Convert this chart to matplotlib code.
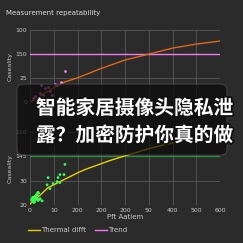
import matplotlib.pyplot as plt
import matplotlib.patheffects as pe
from matplotlib.patches import FancyBboxPatch

# top panel data
trend_x = [0, 13, 84, 147, 198, 295, 400, 501, 602, 703, 800]
trend_y = [0, 4, 25, 42, 50, 69, 87.5, 100, 112.5, 121, 127]
pink_x = [147, 131, 114, 105, 46, 63, 84, 42, 55, 21, 13, 29, 93, 76]
pink_y = [64.6, 41.7, 35.4, 37.5, 35.4, 29.2, 22.9, 18.75, 14.6, 12.5, 8.3, 4.2, 14.6, 31.25]
trend_level = 100

# bottom panel data
drift_x = [0, 34, 76, 118, 160, 202, 232, 337, 380, 505, 610, 800]
drift_y = [20.4, 23.3, 27.1, 29.2, 31.25, 33.3, 34.6, 38.3, 39.6, 43.3, 45.8, 48.5]
green_x = [147, 126, 143, 118, 114, 126, 76, 72, 97, 84, 34, 29, 21, 13, 21, 34, 42, 51, 17, 8]
green_y = [36.7, 32.5, 32.5, 31.25, 29.6, 29.2, 31.25, 28.3, 28.75, 26.7, 25, 24.2, 23.3, 22.9, 22.5, 22.1, 22.5, 21.7, 21.25, 22.1]
green_s = [4, 4, 4, 4, 4, 4, 4, 4, 4, 4, 7, 7, 8, 8, 8, 7, 5, 4, 7, 6]
drift_level = 40

xticks = [0, 100, 200, 300, 400, 500, 600, 700, 800]
xtick_labels = ['0', '10', '200', '200', '200', '50', '400', '500', '600']
top_yticks = [0, 50, 100, 150]
top_ylabels = ['0', '25', '150', '100']
bot_yticks = [20, 30, 40, 50]
bot_ylabels = ['20', '30', '145', '110']

bg = '#2b2b2b'
grid = '#525252'
txt = '#c8c8c8'

fig = plt.figure(figsize=(2.43, 2.43), dpi=100, facecolor=bg)

def style(ax):
    ax.set_facecolor(bg)
    for s in ax.spines.values():
        s.set_visible(False)
    ax.grid(True, color=grid, linewidth=0.7)
    ax.set_axisbelow(True)
    ax.tick_params(length=0, labelsize=4.4, colors=txt, pad=2)
    ax.set_xlim(0, 800)
    ax.set_xticks(xticks)

ax1 = fig.add_axes([0.1235, 0.5802, 0.7819, 0.2963])
style(ax1)
ax1.set_ylim(0, 150)
ax1.set_yticks(top_yticks, top_ylabels)
ax1.set_xticklabels([])
ax1.axhline(trend_level, color='#f07cf0', linewidth=1.0)
ax1.plot(trend_x, trend_y, color='#e0661a', linewidth=1.0)
ax1.scatter(pink_x, pink_y, s=4, color='#f07cf0', zorder=3, linewidths=0)
ax1.set_ylabel('Caseality', fontsize=4.5, color=txt, labelpad=2)

ax2 = fig.add_axes([0.1235, 0.1564, 0.7819, 0.3004])
style(ax2)
ax2.set_ylim(20, 50)
ax2.set_yticks(bot_yticks, bot_ylabels)
ax2.set_xticklabels(xtick_labels)
ax2.axhline(drift_level, color='#2e8b3a', linewidth=1.0)
ax2.plot(drift_x, drift_y, color='#e8d000', linewidth=1.0)
ax2.scatter(green_x, green_y, s=green_s, color='#33ff55', zorder=3, linewidths=0)
ax2.set_ylabel('Caseality', fontsize=4.5, color=txt, labelpad=2)
ax2.set_xlabel('Pft Aatiem', fontsize=5, color=txt, labelpad=1)

fig.text(0.025, 0.94, 'Measurement repeatability', fontsize=5, color='#dddddd')

# legend
fig.add_artist(plt.Line2D([0.115, 0.165], [0.053, 0.053], color='#e8d000', linewidth=1.0))
fig.text(0.17, 0.053, 'Thermal difft', fontsize=5, color=txt, va='center')
fig.add_artist(plt.Line2D([0.39, 0.44], [0.053, 0.053], color='#f07cf0', linewidth=1.0))
fig.text(0.445, 0.053, 'Trend', fontsize=5, color=txt, va='center')

# caption overlay
box = FancyBboxPatch((0.07, 0.362), 0.864, 0.292, boxstyle='round,pad=0,rounding_size=0.025',
                     transform=fig.transFigure, facecolor='#0a0a0a', alpha=0.7,
                     edgecolor='#5a5a5a', linewidth=0.6)
fig.add_artist(box)
for y, line in [(0.553, '智能家居摄像头隐私泄'), (0.442, '露？加密防护你真的做')]:
    fig.text(0.148, y, line, fontsize=14.2, color='white', weight='bold',
             family=['Noto Sans CJK SC', 'DejaVu Sans'], va='center',
             path_effects=[pe.withStroke(linewidth=2.5, foreground='#111111')])

fig.savefig('out.png', dpi=100, facecolor=bg)
